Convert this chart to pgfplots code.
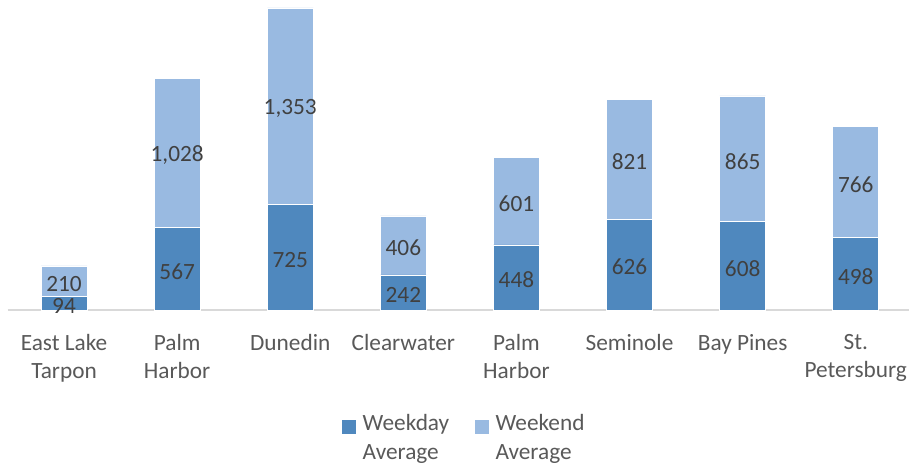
\documentclass[border=0pt]{standalone}
\usepackage{fontspec}
\setmainfont{Carlito}
\usepackage{pgfplots}
\pgfplotsset{compat=1.18}
\usepackage{pgfplotstable}
\definecolor{wkday}{RGB}{79,136,190}
\definecolor{wkend}{RGB}{153,186,225}
\definecolor{lbl}{RGB}{64,64,64}
\definecolor{tickc}{RGB}{89,89,89}
\definecolor{axl}{RGB}{217,217,217}

\pgfplotstableread{
x wd we
0 94 210
1 567 1028
2 725 1353
3 242 406
4 448 601
5 626 821
6 608 865
7 498 766
}\data

\begin{document}
\begin{tikzpicture}
\begin{axis}[
  at={(7.5bp,155bp)}, anchor=south west,
  scale only axis, width=904.8bp, height=310bp,
  ybar stacked, bar width=46bp,
  ymin=0, ymax=2133, xmin=-0.5, xmax=7.5,
  clip=false,
  axis y line=none,
  axis x line*=bottom,
  x axis line style={draw=axl, line width=1.2bp, -},
  major tick length=0pt,
  xtick={0,...,7},
  xticklabels={East Lake\\Tarpon, Palm\\Harbor, Dunedin, Clearwater, Palm\\Harbor, Seminole, Bay Pines, St.\\Petersburg},
  xticklabel style={align=center, inner sep=0pt, anchor=north, yshift=-24bp,
    font=\fontsize{23.3bp}{28.2bp}\selectfont, text=tickc},
  /pgf/number format/assume math mode=true,
  /pgf/number format/1000 sep={,},
  nodes near coords style={font=\fontsize{23.3bp}{28bp}\selectfont, text=lbl, anchor=center, inner sep=0pt, yshift=-2.5bp},
  legend style={at={(0.505,-0.324)}, anchor=north, draw=none, fill=none,
    font=\fontsize{23.3bp}{28.2bp}\selectfont, text=tickc,
    cells={align=left, anchor=west},
    /tikz/every even column/.append style={column sep=24bp}},
  legend columns=2,
  legend image code/.code={\fill[#1, draw=none] (0bp,4bp) rectangle (14bp,18bp); \path (18bp,11bp);},
]
\addplot[fill=wkday, draw=white, line width=0.6bp,
  nodes near coords, point meta=explicit]
  table[x=x, y=wd, meta=wd] {\data};
\addlegendentry{Weekday\\Average}
\addplot[fill=wkend, draw=white, line width=0.6bp,
  nodes near coords, point meta=explicit]
  table[x=x, y=we, meta=we] {\data};
\addlegendentry{Weekend\\Average}
\end{axis}
\pgfresetboundingbox
\useasboundingbox (0,0) rectangle (909bp,465bp);
\end{tikzpicture}
\end{document}
